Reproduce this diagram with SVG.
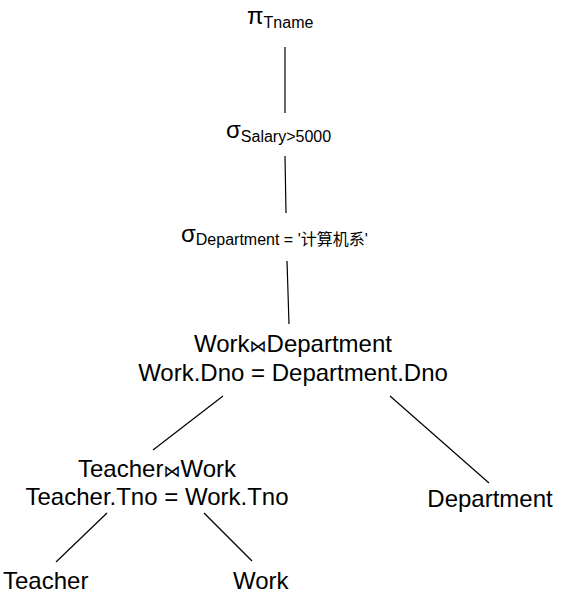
<svg xmlns="http://www.w3.org/2000/svg" width="567" height="595" viewBox="0 0 567 595">
<style>
text{font-family:"Liberation Sans",Arial,"Noto Sans CJK SC","DejaVu Sans",sans-serif;fill:#000;font-size:24px}
.sub{font-size:16px}
.j{font-size:17px;font-family:"DejaVu Sans",sans-serif}
.c{text-anchor:middle}
line{stroke:#000;stroke-width:1.2}
</style>
<rect width="567" height="595" fill="#fff"/>
<g id="connectors">
<line x1="285" y1="47" x2="285" y2="113"/>
<line x1="285" y1="156" x2="286" y2="213"/>
<line x1="287" y1="261" x2="289" y2="324"/>
<line x1="223" y1="396" x2="153" y2="450"/>
<line x1="390" y1="396" x2="489" y2="483"/>
<line x1="107" y1="513" x2="56" y2="562"/>
<line x1="204" y1="513" x2="252" y2="561"/>
</g>
<g id="project"><text x="247" y="24">π<tspan class="sub" dy="4">Tname</tspan></text></g>
<g id="select-salary"><text x="226" y="138">σ<tspan class="sub" dy="4">Salary&gt;5000</tspan></text></g>
<g id="select-dept"><text x="181" y="242">σ<tspan class="sub" dy="3">Department = '计算机系'</tspan></text></g>
<g id="join-wd"><text class="c" x="293" y="352">Work<tspan class="j">⋈</tspan>Department</text><text class="c" x="293" y="381">Work.Dno = Department.Dno</text></g>
<g id="join-tw"><text class="c" x="157" y="477">Teacher<tspan class="j">⋈</tspan>Work</text><text class="c" x="157" y="505">Teacher.Tno = Work.Tno</text></g>
<g id="department"><text class="c" x="490" y="507">Department</text></g>
<g id="teacher"><text x="3" y="589">Teacher</text></g>
<g id="work"><text x="233" y="589">Work</text></g>
</svg>
